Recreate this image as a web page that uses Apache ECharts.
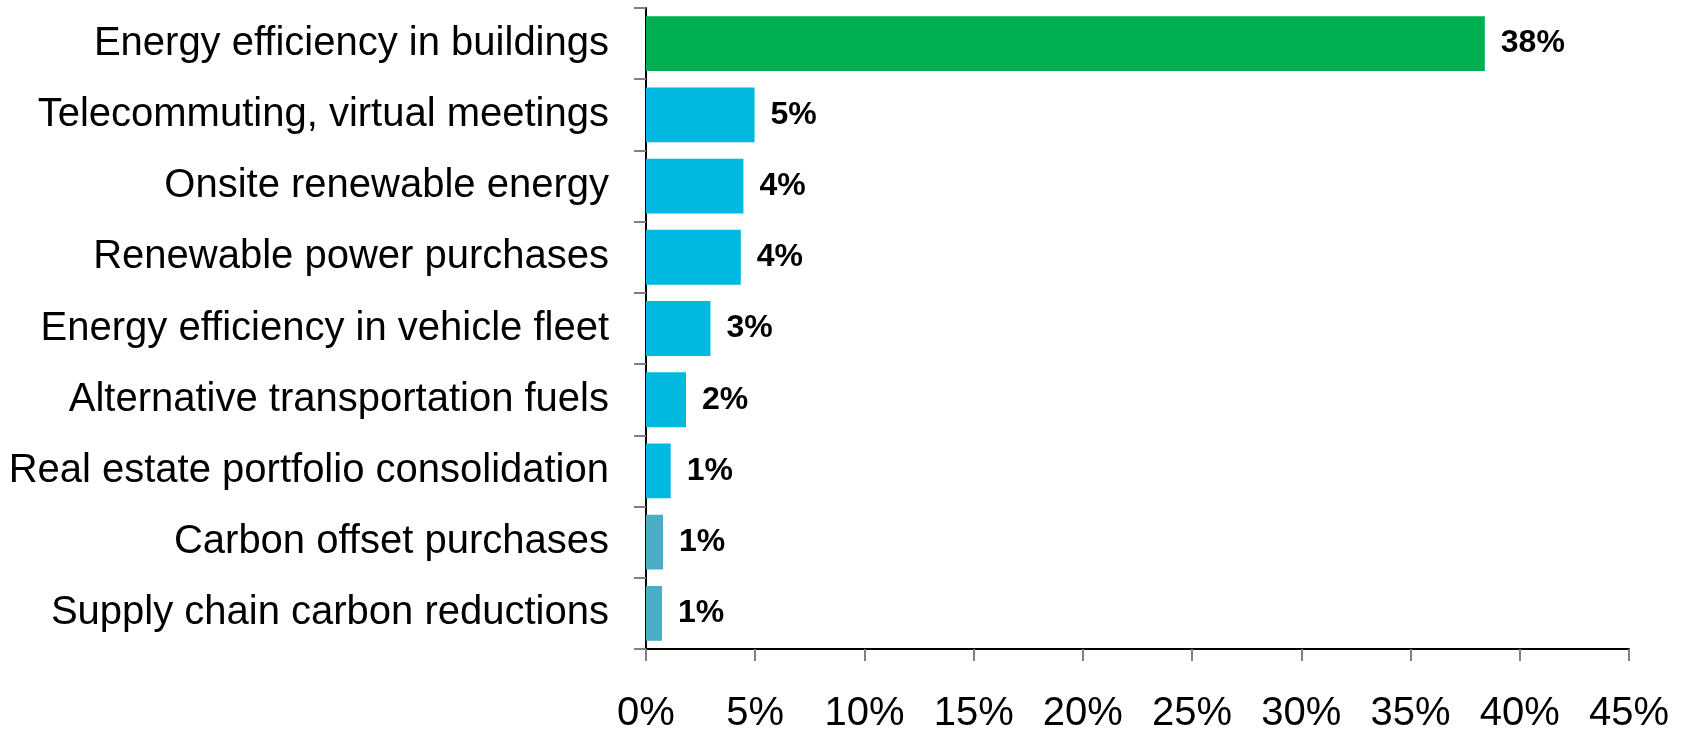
<!DOCTYPE html>
<html>
<head>
<meta charset="utf-8">
<script src="https://cdn.jsdelivr.net/npm/echarts@6/dist/echarts.min.js"></script>
<style>
  html, body { margin: 0; padding: 0; background: #fff; }
  #chart { width: 1683px; height: 729px; }
</style>
</head>
<body>
<div id="chart"></div>
<script>
'use strict';

// categories, top to bottom
const categories = [
  'Energy efficiency in buildings',
  'Telecommuting, virtual meetings',
  'Onsite renewable energy',
  'Renewable power purchases',
  'Energy efficiency in vehicle fleet',
  'Alternative transportation fuels',
  'Real estate portfolio consolidation',
  'Carbon offset purchases',
  'Supply chain carbon reductions'
];

// share of respondents, percent
const shares = [38.4, 4.97, 4.46, 4.34, 2.95, 1.83, 1.13, 0.78, 0.73];

// x axis ticks, percent
const xTicks = [0, 5, 10, 15, 20, 25, 30, 35, 40, 45];

const GREEN = '#00B050';
const CYAN = '#00B8E0';
const TEAL = '#4BACC6';
const FONT = '"Liberation Sans", Arial, Helvetica, sans-serif';

function barColor(i) {
  if (i === 0) return GREEN;
  if (i >= categories.length - 2) return TEAL;
  return CYAN;
}

const chart = echarts.init(document.getElementById('chart'), null, { renderer: 'canvas' });

chart.setOption({
  animation: false,
  backgroundColor: '#fff',
  grid: {
    left: 646, right: 54, top: 8, bottom: 80,
    containLabel: false,
    outerBoundsMode: 'none'
  },
  xAxis: {
    type: 'value',
    min: xTicks[0],
    max: xTicks[xTicks.length - 1],
    interval: xTicks[1] - xTicks[0],
    splitLine: { show: false },
    axisLine: { show: true, lineStyle: { color: '#000', width: 2 } },
    axisTick: { show: true, length: 12, lineStyle: { color: '#808080', width: 2 } },
    axisLabel: {
      formatter: '{value}%',
      margin: 45,
      color: '#000',
      fontFamily: FONT,
      fontSize: 40
    }
  },
  yAxis: {
    type: 'category',
    data: categories,
    inverse: true,
    axisLine: { show: true, lineStyle: { color: '#000', width: 2 } },
    axisTick: { show: true, length: 12, lineStyle: { color: '#808080', width: 2 } },
    axisLabel: {
      margin: 37,
      color: '#000',
      fontFamily: FONT,
      fontSize: 40
    }
  },
  series: [{
    type: 'bar',
    data: shares,
    barCategoryGap: '23%',
    itemStyle: {
      color: p => barColor(p.dataIndex)
    },
    label: {
      show: true,
      position: 'right',
      distance: 16,
      color: '#000',
      fontWeight: 'bold',
      fontFamily: FONT,
      fontSize: 32,
      formatter: p => Math.round(p.value) + '%'
    }
  }]
});
</script>
</body>
</html>
